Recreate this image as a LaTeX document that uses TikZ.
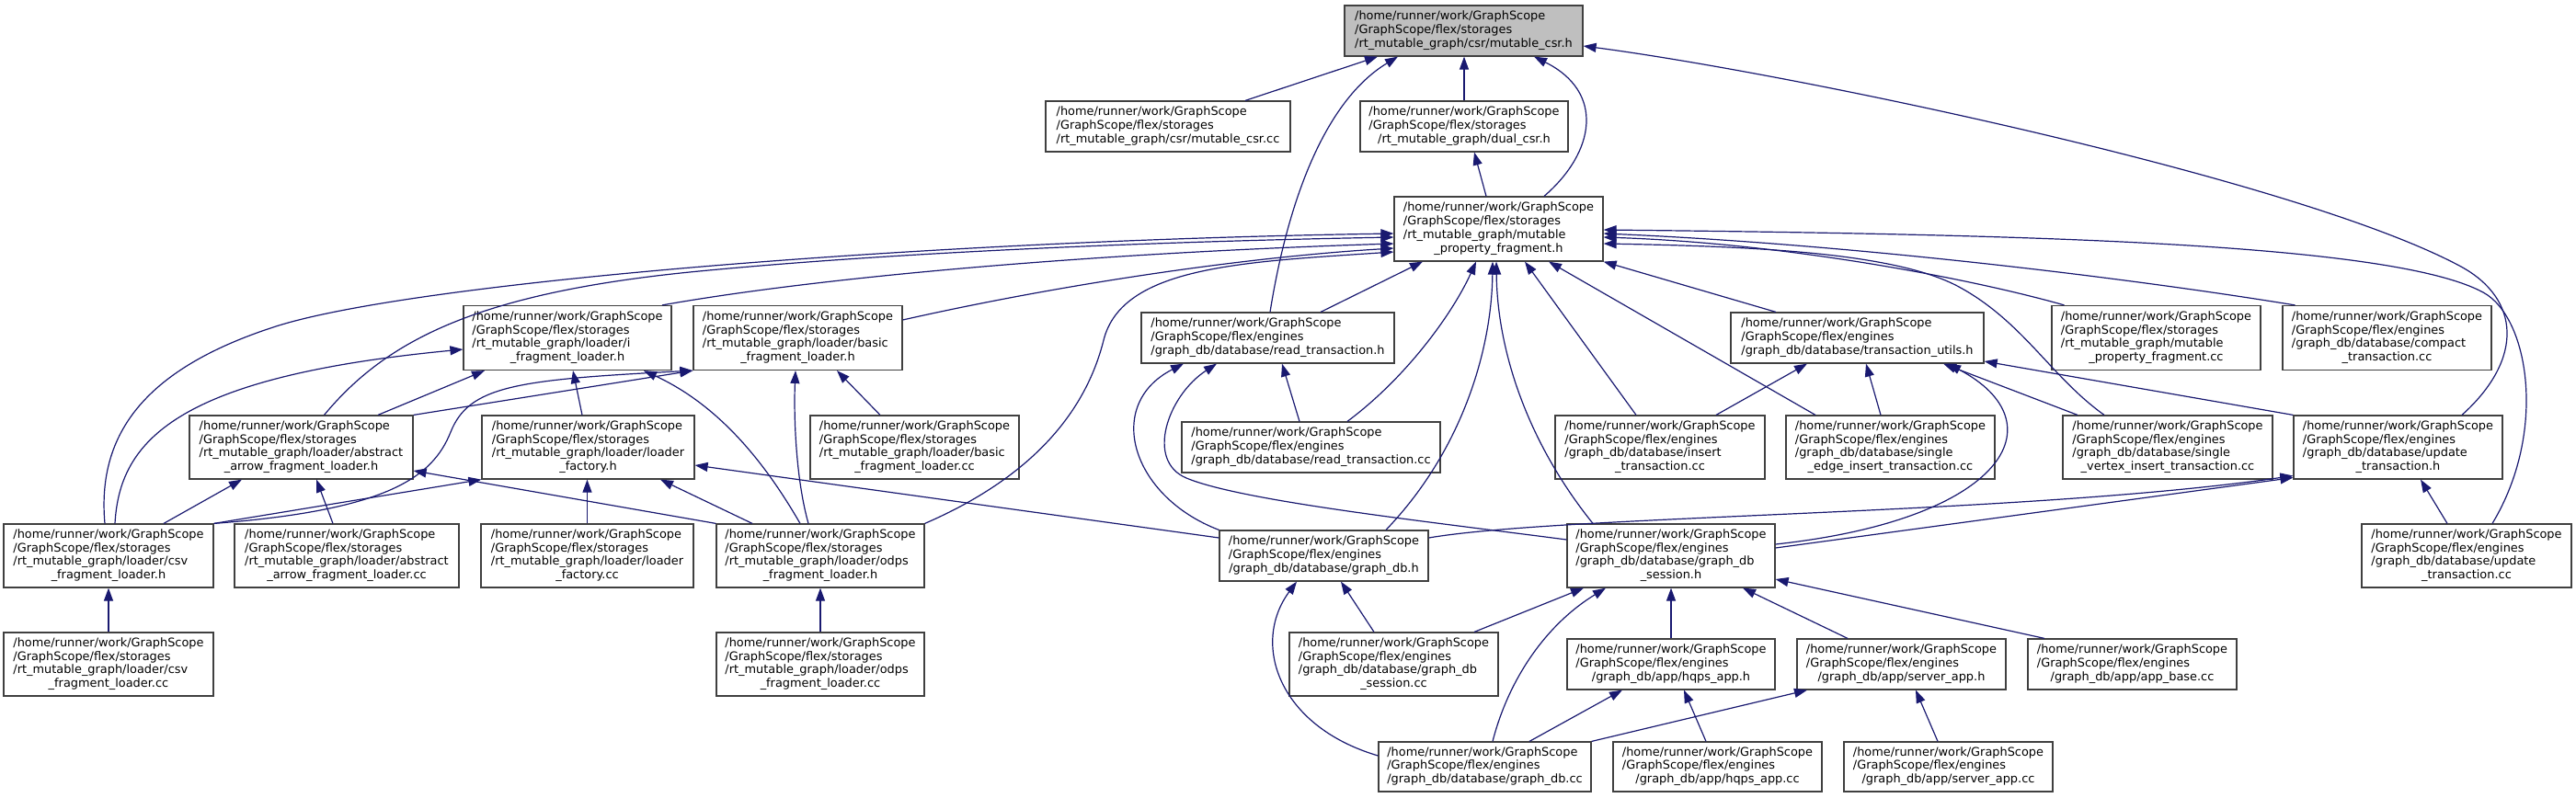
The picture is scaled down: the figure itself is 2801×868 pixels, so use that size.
\documentclass[tikz,border=0pt]{standalone}
\usepackage{fontspec}
\setmainfont{DejaVu Sans}
\usetikzlibrary{arrows.meta}
\definecolor{edgeblue}{HTML}{191970}
\definecolor{boxline}{HTML}{404040}
\definecolor{rootfill}{HTML}{BFBFBF}
\newcommand{\nlab}[2]{\begin{tabular}{@{}l@{}}#1\\\multicolumn{1}{@{}c@{}}{#2}\end{tabular}}
\newcommand{\Lhome}{/home/runner/work/GraphScope}
\newcommand{\Lstor}{/GraphScope/flex/storages}
\newcommand{\Leng}{/GraphScope/flex/engines}
\newcommand{\Lrt}{/rt\_mutable\_graph}
\begin{document}
\begin{tikzpicture}[x=1bp,y=-1bp,
  box/.style={draw=boxline, line width=1.2bp, fill=white, inner sep=0pt, align=center,
    font=\fontsize{12.95}{14.76}\selectfont},
  hthree/.style={minimum height=55bp},
  hfour/.style={minimum height=69bp},
  edge/.style={draw=edgeblue, line width=1.2bp, -{Triangle[length=14bp,width=10bp]}}]
\useasboundingbox (0,0) rectangle (2801,868);

% row A-C
\node[box,hthree,fill=rootfill,minimum width=259bp] (n1) at (1591.5,33.5) {\nlab{\Lhome\\\Lstor}{\Lrt/csr/mutable\_csr.h}};
\node[box,hthree,minimum width=266bp] (n2) at (1270,137.5) {\nlab{\Lhome\\\Lstor}{\Lrt/csr/mutable\_csr.cc}};
\node[box,hthree,minimum width=226bp] (n3) at (1592,137.5) {\nlab{\Lhome\\\Lstor}{\Lrt/dual\_csr.h}};
\node[box,minimum height=70bp,minimum width=227bp] (n4) at (1629.5,249) {\nlab{\Lhome\\\Lstor\\\Lrt/mutable}{\_property\_fragment.h}};
% row D
\node[box,minimum height=70bp,minimum width=226bp] (n5) at (617,367.5) {\nlab{\Lhome\\\Lstor\\\Lrt/loader/i}{\_fragment\_loader.h}};
\node[box,minimum height=70bp,minimum width=227bp] (n6) at (867.5,367.5) {\nlab{\Lhome\\\Lstor\\\Lrt/loader/basic}{\_fragment\_loader.h}};
\node[box,hthree,minimum width=275bp] (n7) at (1378.5,367.5) {\nlab{\Lhome\\\Leng}{/graph\_db/database/read\_transaction.h}};
\node[box,hthree,minimum width=275bp] (n8) at (2019.5,367.5) {\nlab{\Lhome\\\Leng}{/graph\_db/database/transaction\_utils.h}};
\node[box,minimum height=70bp,minimum width=227bp] (n9) at (2344.5,367.5) {\nlab{\Lhome\\\Lstor\\\Lrt/mutable}{\_property\_fragment.cc}};
\node[box,minimum height=70bp,minimum width=227bp] (n10) at (2595.5,367.5) {\nlab{\Lhome\\\Leng\\/graph\_db/database/compact}{\_transaction.cc}};
% row E
\node[box,hfour,minimum width=243bp] (n11) at (327.5,486.5) {\nlab{\Lhome\\\Lstor\\\Lrt/loader/abstract}{\_arrow\_fragment\_loader.h}};
\node[box,hfour,minimum width=231bp] (n12) at (639.5,486.5) {\nlab{\Lhome\\\Lstor\\\Lrt/loader/loader}{\_factory.h}};
\node[box,hfour,minimum width=227bp] (n13) at (994.5,486.5) {\nlab{\Lhome\\\Lstor\\\Lrt/loader/basic}{\_fragment\_loader.cc}};
\node[box,hthree,minimum width=281bp] (n14) at (1425.5,486.5) {\nlab{\Lhome\\\Leng}{/graph\_db/database/read\_transaction.cc}};
\node[box,hfour,minimum width=228bp] (n15) at (1805,486.5) {\nlab{\Lhome\\\Leng\\/graph\_db/database/insert}{\_transaction.cc}};
\node[box,hfour,minimum width=227bp] (n16) at (2055.5,486.5) {\nlab{\Lhome\\\Leng\\/graph\_db/database/single}{\_edge\_insert\_transaction.cc}};
\node[box,hfour,minimum width=228bp] (n17) at (2357,486.5) {\nlab{\Lhome\\\Leng\\/graph\_db/database/single}{\_vertex\_insert\_transaction.cc}};
\node[box,hfour,minimum width=227bp] (n18) at (2607.5,486.5) {\nlab{\Lhome\\\Leng\\/graph\_db/database/update}{\_transaction.h}};
% row F
\node[box,hfour,minimum width=228bp] (n19) at (118,604.5) {\nlab{\Lhome\\\Lstor\\\Lrt/loader/csv}{\_fragment\_loader.h}};
\node[box,hfour,minimum width=244bp] (n20) at (377,604.5) {\nlab{\Lhome\\\Lstor\\\Lrt/loader/abstract}{\_arrow\_fragment\_loader.cc}};
\node[box,hfour,minimum width=231bp] (n21) at (638.5,604.5) {\nlab{\Lhome\\\Lstor\\\Lrt/loader/loader}{\_factory.cc}};
\node[box,hfour,minimum width=226bp] (n22) at (892,604.5) {\nlab{\Lhome\\\Lstor\\\Lrt/loader/odps}{\_fragment\_loader.h}};
\node[box,hthree,minimum width=227bp] (n23) at (1439.5,604.5) {\nlab{\Lhome\\\Leng}{/graph\_db/database/graph\_db.h}};
\node[box,hfour,minimum width=226bp] (n24) at (1817,604.5) {\nlab{\Lhome\\\Leng\\/graph\_db/database/graph\_db}{\_session.h}};
\node[box,hfour,minimum width=228bp] (n25) at (2682,604.5) {\nlab{\Lhome\\\Leng\\/graph\_db/database/update}{\_transaction.cc}};
% row G
\node[box,hfour,minimum width=228bp] (n26) at (118,722.5) {\nlab{\Lhome\\\Lstor\\\Lrt/loader/csv}{\_fragment\_loader.cc}};
\node[box,hfour,minimum width=226bp] (n27) at (892,722.5) {\nlab{\Lhome\\\Lstor\\\Lrt/loader/odps}{\_fragment\_loader.cc}};
\node[box,hfour,minimum width=227bp] (n28) at (1515.5,722.5) {\nlab{\Lhome\\\Leng\\/graph\_db/database/graph\_db}{\_session.cc}};
\node[box,hthree,minimum width=226bp] (n29) at (1817,722.5) {\nlab{\Lhome\\\Leng}{/graph\_db/app/hqps\_app.h}};
\node[box,hthree,minimum width=227bp] (n30) at (2067.5,722.5) {\nlab{\Lhome\\\Leng}{/graph\_db/app/server\_app.h}};
\node[box,hthree,minimum width=227bp] (n31) at (2318.5,722.5) {\nlab{\Lhome\\\Leng}{/graph\_db/app/app\_base.cc}};
% row H
\node[box,minimum height=54bp,minimum width=231bp] (n32) at (1614.5,834) {\nlab{\Lhome\\\Leng}{/graph\_db/database/graph\_db.cc}};
\node[box,minimum height=54bp,minimum width=227bp] (n33) at (1867.5,834) {\nlab{\Lhome\\\Leng}{/graph\_db/app/hqps\_app.cc}};
\node[box,minimum height=54bp,minimum width=227bp] (n34) at (2118.5,834) {\nlab{\Lhome\\\Leng}{/graph\_db/app/server\_app.cc}};

% edges into n1
\draw[edge] ([xshift=84bp]n2.north) -- ([xshift=-93.5bp]n1.south);
\draw[edge] (n3.north) -- (n3.north |- n1.south);
\draw[edge] ([xshift=49.5bp]n4.north) .. controls (1735,165) and (1745,100) .. ([xshift=76.5bp]n1.south);
\draw[edge] ([xshift=2.5bp]n7.north) .. controls (1400,220) and (1440,110) .. ([xshift=-71.5bp]n1.south);
\draw[edge] ([xshift=69.5bp]n18.north) .. controls (2745,390) and (2740,325) .. (2676,290) .. controls (2500,195) and (1950,80) .. ([yshift=-16.5bp]n1.east);
% into n3
\draw[edge] ([xshift=-13.5bp]n4.north) -- ([xshift=11bp]n3.south);
% into n4
\draw[edge] ([xshift=57.5bp]n7.north) -- ([xshift=-82.5bp]n4.south);
\draw[edge] ([xshift=39.5bp]n14.north) .. controls (1530,410) and (1580,340) .. ([xshift=-24.5bp]n4.south);
\draw[edge] ([xshift=67.5bp]n23.north) .. controls (1590,490) and (1622,380) .. ([xshift=-6.5bp]n4.south);
\draw[edge] ([xshift=-85bp]n24.north) .. controls (1660,480) and (1628,380) .. ([xshift=-2.5bp]n4.south);
\draw[edge] ([xshift=-26bp]n15.north) -- ([xshift=28.5bp]n4.south);
\draw[edge] ([xshift=-81.5bp]n16.north) -- ([xshift=54.5bp]n4.south);
\draw[edge] ([xshift=-88.5bp]n8.north) -- (n4.south east);
\draw[edge] ([xshift=103bp]n5.north) .. controls (900,300) and (1200,275) .. ([yshift=-16bp]n4.west);
\draw[edge] ([yshift=19.5bp]n6.east) .. controls (1150,310) and (1350,280) .. ([yshift=-21bp]n4.west);
\draw[edge] ([xshift=25bp]n11.north) .. controls (420,370) and (520,318) .. (760,295) .. controls (1000,272) and (1300,262) .. ([yshift=-9bp]n4.west);
\draw[edge] ([xshift=-4bp]n19.north) .. controls (105,470) and (160,400) .. (300,355) .. controls (450,307) and (1000,262) .. ([yshift=-5bp]n4.west);
\draw[edge] (n22.north east) .. controls (1120,520) and (1180,450) .. (1200,370) .. controls (1220,290) and (1350,285) .. ([yshift=-25bp]n4.west);
\draw[edge] ([xshift=28bp]n25.north) .. controls (2770,470) and (2750,345) .. (2700,318) .. controls (2600,264) and (2200,255) .. ([yshift=-1bp]n4.east);
\draw[edge] ([xshift=-100bp]n9.north) .. controls (2150,305) and (1950,265) .. ([yshift=-9bp]n4.east);
\draw[edge] ([xshift=-100bp]n10.north) .. controls (2300,300) and (2000,265) .. ([yshift=-5bp]n4.east);
\draw[edge] ([xshift=-69bp]n17.north) .. controls (2230,410) and (2200,350) .. (2130,312) .. controls (2060,274) and (1900,268) .. ([yshift=-16bp]n4.east);
% into n5
\draw[edge] ([xshift=83.5bp]n11.north) -- ([xshift=-90bp]n5.south);
\draw[edge] ([xshift=7bp]n19.north) .. controls (130,480) and (190,410) .. ([yshift=-12.5bp]n5.west);
\draw[edge] ([xshift=-6.5bp]n12.north) -- ([xshift=6bp]n5.south);
\draw[edge] ([xshift=-22bp]n22.north) .. controls (830,500) and (780,440) .. ([xshift=83bp]n5.south);
% into n6
\draw[edge] (n11.north east) -- (n6.south west);
\draw[edge] (n19.north east) .. controls (420,555) and (470,520) .. (490,470) .. controls (510,420) and (560,413) .. (n6.south west);
\draw[edge] ([xshift=-37.5bp]n13.north) -- ([xshift=42.5bp]n6.south);
\draw[edge] ([xshift=-13bp]n22.north) .. controls (865,520) and (863,450) .. ([xshift=-2.5bp]n6.south);
% into n11
\draw[edge] ([xshift=60bp]n19.north) -- ([xshift=-64.5bp]n11.south);
\draw[edge] ([xshift=-15bp]n20.north) -- ([xshift=16.5bp]n11.south);
\draw[edge] (n22.north west) -- ([yshift=-25.5bp]n11.east);
% into n12
\draw[edge] (n19.north east) -- (n12.south west);
\draw[edge] (n21.north) -- (n21.north |- n12.south);
\draw[edge] ([xshift=-74bp]n22.north) -- ([xshift=78.5bp]n12.south);
\draw[edge] ([yshift=19.5bp]n23.west) -- ([yshift=-19.5bp]n12.east);
% into n7
\draw[edge] ([xshift=-12.5bp]n14.north) -- ([xshift=15.5bp]n7.south);
\draw[edge] (n23.north west) .. controls (1230,540) and (1200,440) .. ([xshift=-91.5bp]n7.south);
\draw[edge] ([yshift=17.5bp]n24.west) .. controls (1550,567) and (1350,545) .. (1290,520) .. controls (1245,501) and (1270,430) .. ([xshift=-55.5bp]n7.south);
% into n8
\draw[edge] ([xshift=61bp]n15.north) -- ([xshift=-54.5bp]n8.south);
\draw[edge] ([xshift=-10.5bp]n16.north) -- ([xshift=9.5bp]n8.south);
\draw[edge] ([xshift=-98bp]n17.north) -- ([xshift=93.5bp]n8.south);
\draw[edge] ([yshift=12.5bp]n24.east) .. controls (2180,565) and (2240,460) .. ([xshift=98.5bp]n8.south);
\draw[edge] (n18.north west) -- ([yshift=-25.5bp]n8.east);
% into n18
\draw[edge] ([xshift=-21bp]n25.north) -- ([xshift=24.5bp]n18.south);
\draw[edge] ([yshift=19.5bp]n23.east) .. controls (1700,560) and (2200,560) .. ([yshift=-31bp]n18.west);
\draw[edge] ([yshift=8.5bp]n24.east) -- ([yshift=-33bp]n18.west);
% into n23
\draw[edge] ([xshift=-21.5bp]n28.north) -- ([xshift=18.5bp]n23.south);
\draw[edge] ([yshift=12bp]n32.west) .. controls (1390,790) and (1360,700) .. ([xshift=-29.5bp]n23.south);
% into n24
\draw[edge] ([xshift=87.5bp]n28.north) -- ([xshift=-95bp]n24.south);
\draw[edge] ([xshift=8.5bp]n32.north) .. controls (1640,740) and (1680,680) .. ([xshift=-71bp]n24.south);
\draw[edge] (n29.north) -- (n29.north |- n24.south);
\draw[edge] ([xshift=-58.5bp]n30.north) -- ([xshift=78bp]n24.south);
\draw[edge] ([xshift=-95.5bp]n31.north) -- ([yshift=-25.5bp]n24.east);
% into n29, n30
\draw[edge] ([xshift=48.5bp]n32.north) -- ([xshift=-53bp]n29.south);
\draw[edge] ([xshift=-12.5bp]n33.north) -- ([xshift=14bp]n29.south);
\draw[edge] (n32.north east) -- ([xshift=-102.5bp]n30.south);
\draw[edge] ([xshift=-11.5bp]n34.north) -- ([xshift=15.5bp]n30.south);
% verticals
\draw[edge] (n26.north) -- (n19.south);
\draw[edge] (n27.north) -- (n22.south);
\end{tikzpicture}
\end{document}
